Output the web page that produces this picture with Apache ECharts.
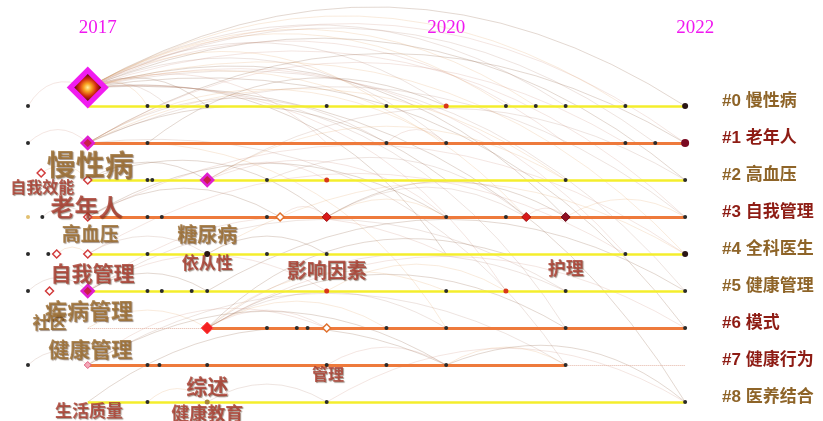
<!DOCTYPE html>
<html><head><meta charset="utf-8">
<script src="https://cdn.jsdelivr.net/npm/echarts@6/dist/echarts.min.js"></script>
<style>html,body{margin:0;padding:0;background:#fff}#c{width:823px;height:421px}</style>
</head><body><div id="c"></div>
<script>
// ---------- DATA ----------
const yearTicks = [2017, 2020, 2022];
const clusterLabels = ['#0 慢性病','#1 老年人','#2 高血压','#3 自我管理','#4 全科医生','#5 健康管理','#6 模式','#7 健康行为','#8 医养结合'];
const clusterTone = ['y','o','y','o','y','y','o','o','y'];
// [startYear, endYear, clusterRow]
const tracksSolid = [[2017,2022,0],[2017,2022,1],[2017,2022,2],[2017,2022,3],[2017,2022,4],[2017,2022,5],[2018,2022,6],[2017,2021,7],[2017,2022,8]];
const tracksDotted = [[2017,2018,6],[2021,2022,7]];
// [year, row, kind]
const nodes = [
  [2016.5,0,'dot'],[2017,-0.5,'hub'],[2017.5,0,'dot'],[2017.67,0,'dot'],[2018,0,'dot'],[2019,0,'dot'],[2019.5,0,'dot'],[2020,0,'burstDot'],[2020.5,0,'dot'],[2020.75,0,'dot'],[2021,0,'dot'],[2021.5,0,'dot'],[2022,0,'end'],
  [2016.5,1,'dot'],[2017,1,'central'],[2017.5,1,'dot'],[2019.5,1,'dot'],[2020,1,'dot'],[2021.5,1,'dot'],[2021.75,1,'dot'],[2022,1,'endRed'],
  [2016.61,1.81,'open'],[2017,2,'open'],[2017.5,2,'dot'],[2017.54,2,'dot'],[2018,2,'central'],[2018.5,2,'dot'],[2019,2,'burstDot'],[2021,2,'dot'],[2022,2,'dot'],
  [2016.5,3,'dotLight'],[2016.62,3,'dot'],[2017,3,'open'],[2017.5,3,'dot'],[2017.62,3,'dot'],[2018.5,3,'dot'],[2018.61,3,'openOrange'],[2019,3,'burst'],[2020,3,'dot'],[2020.5,3,'dot'],[2020.67,3,'burst'],[2021,3,'burstDark'],[2022,3,'dot'],
  [2016.5,4,'dot'],[2016.67,4,'dot'],[2016.74,4,'open'],[2017,4,'open'],[2017.5,4,'dot'],[2018,4,'end'],[2018.5,4,'dot'],[2019,4,'dot'],[2021.5,4,'dot'],[2022,4,'end'],
  [2016.5,5,'dot'],[2016.68,5,'open'],[2017,5,'central'],[2017.5,5,'dot'],[2017.62,5,'dot'],[2017.87,5,'dot'],[2018,5,'dot'],[2019,5,'burstDot'],[2020,5,'dot'],[2020.5,5,'burstDot'],[2021,5,'dot'],[2022,5,'dot'],
  [2018,6,'burstBig'],[2018.5,6,'dot'],[2018.75,6,'dot'],[2018.84,6,'dot'],[2019,6,'openOrange'],[2019.5,6,'dot'],[2020,6,'dot'],[2021,6,'dot'],[2022,6,'dot'],
  [2016.5,7,'dot'],[2017,7,'openPink'],[2017.5,7,'dot'],[2017.6,7,'dot'],[2018,7,'dot'],[2019,7,'dot'],[2019.5,7,'dot'],[2020,7,'dot'],[2021,7,'dot'],
  [2017.5,8,'dot'],[2018,8,'dotGold'],[2019,8,'dot'],[2022,8,'dot']
];
// co-occurrence links [year1,row1,year2,row2]
const links = [
  [2017,-0.5,2022,0],[2017,-0.5,2022,1],[2017,-0.5,2021.5,0],[2017,-0.5,2021,0],[2017,-0.5,2022,2],[2017,-0.5,2022,3],
  [2017,-0.5,2022,4],[2017,-0.5,2022,5],[2017,-0.5,2022,8],[2017,-0.5,2021,1],[2017,-0.5,2020.5,0],[2017,-0.5,2020,1],
  [2017,-0.5,2021,3],[2017,-0.5,2021.5,4],[2017,-0.5,2019.5,0],[2017,-0.5,2020,0],[2017,-0.5,2018,0],[2017,-0.5,2019,1],
  [2017,-0.5,2020.67,3],[2017,-0.5,2021,6],[2017,-0.5,2022,6],[2016.5,0,2017,-0.5],[2017,-0.5,2017.5,0],[2017,-0.5,2017.67,0],
  [2017,-0.5,2020,4],[2017,-0.5,2020.5,5],[2017,-0.5,2020.75,0],[2017,-0.5,2021.75,1],
  [2017,1,2022,1],[2017,1,2021.5,1],[2017,1,2020,1],[2017,1,2019.5,1],[2017,1,2020,2],[2016.5,1,2017,1],
  [2017,1,2021,2],[2017,1,2022,3],[2017.5,1,2020,0],[2019.5,1,2020,1],[2017,1,2020,6],[2017,1,2021,7],
  [2017,2,2018,2],[2018,2,2019,2],[2018,2,2021,2],[2018,2,2022,2],[2017,2,2019,3],[2018,2,2020,3],
  [2016.61,1.81,2017,2],[2018.5,2,2020.67,3],
  [2017,3,2018.61,3],[2018.61,3,2019,3],[2019,3,2020,3],[2019,3,2020.67,3],[2019,3,2021,3],[2020.67,3,2021,3],
  [2021,3,2022,3],[2016.62,3,2017,3],[2017,3,2020,3],[2017,3,2022,4],
  [2016.74,4,2017,4],[2017,4,2018,4],[2018,4,2019,4],[2017,4,2021.5,4],[2018,4,2022,4],
  [2016.5,5,2017,5],[2017,5,2018,5],[2017,5,2019,5],[2019,5,2020.5,5],[2017,5,2021,5],[2018,5,2022,5],[2017,5,2020,4],
  [2018,6,2019.5,6],[2018,6,2020,6],[2018,6,2021,6],[2018,6,2022,6],[2018,6,2020,5],[2018,6,2021,5],
  [2018,6,2020.5,4],[2018,6,2019,6],[2017,6,2018,6],
  [2016.5,7,2017,7],[2017,7,2020,7],[2019,7,2020,7],[2020,7,2021,7],[2017,7,2021,7],[2020,7,2022,8],[2017,7,2019,6],
  [2017.5,8,2018,8],[2018,8,2019,8],[2017,8,2020,7],[2019,8,2022,8]
];
// keyword labels [text, year, row, weight, tone]
const keywords = [
  ['慢性病',2017.02,1.6,29,'g'],['自我效能',2016.62,2.19,16,'r'],['老年人',2016.99,2.73,24,'r'],
  ['高血压',2017.02,3.46,19,'g'],['糖尿病',2018.0,3.46,20,'g'],['依从性',2018.0,4.22,17,'r'],
  ['自我管理',2017.04,4.51,21,'r'],['影响因素',2019.0,4.43,20,'r'],['护理',2021.0,4.38,18,'r'],
  ['疾病管理',2017.01,5.54,22,'g'],['社区',2016.68,5.86,17,'g'],['健康管理',2017.02,6.57,21,'g'],
  ['管理',2019.01,7.24,16,'r'],['综述',2018.0,7.57,21,'r'],['生活质量',2017.01,8.22,17,'r'],['健康教育',2018.0,8.3,18,'r']
];

// ---------- STYLE ----------
const kindStyle = {
  dot:{symbol:'circle',size:4,color:'#2b2b2b'},
  dotLight:{symbol:'circle',size:4,color:'#e2c070'},
  dotGold:{symbol:'circle',size:5,color:'#a8843a'},
  end:{symbol:'circle',size:6,color:'#2a1616'},
  endRed:{symbol:'circle',size:8,color:'#7a0a22'},
  burstDot:{symbol:'circle',size:5,color:'#d8361a'},
  open:{symbol:'diamond',size:8,color:'#ffffff',border:'#d23c3c',bw:1.5},
  openOrange:{symbol:'diamond',size:8,color:'#ffffff',border:'#e0702c',bw:1.5},
  openPink:{symbol:'diamond',size:7,color:'#f4a8b8',border:'#e06080',bw:1},
  central:{symbol:'diamond',size:12,color:'#c8204a',border:'#e020d0',bw:2.5},
  burst:{symbol:'diamond',size:9,color:'#d81818',border:'#a01010',bw:1},
  burstDark:{symbol:'diamond',size:9,color:'#8e0e22',border:'#6a0818',bw:1},
  burstBig:{symbol:'diamond',size:12,color:'#f42020',border:'#ff5050',bw:1}
};
const linkColors = ['rgba(145,100,70,0.5)','rgba(205,135,120,0.42)','rgba(228,168,105,0.45)','rgba(165,115,95,0.38)'];
const toneColor = {g:'#9a6a2c', r:'#a8382a'};

const series = [];
// links
series.push({
  type:'lines', coordinateSystem:'cartesian2d', polyline:false, clip:false, silent:true, z:1,
  data: links.map((l,i)=>{
    const dx = l[2]-l[0];
    return {coords:[[l[0],l[1]],[l[2],l[3]]],
      lineStyle:{color:linkColors[i%linkColors.length], width:1, curveness: dx<=0.6?0.45:0.3}};
  })
});
// tracks
series.push({
  type:'lines', coordinateSystem:'cartesian2d', clip:false, silent:true, z:2,
  data: tracksSolid.map(t=>({coords:[[t[0],t[2]],[t[1],t[2]]],
    lineStyle:{color: clusterTone[t[2]]==='y' ? '#f4ee2c' : '#ee7a3c', width: clusterTone[t[2]]==='y'?2.5:3, opacity:1}}))
});
series.push({
  type:'lines', coordinateSystem:'cartesian2d', clip:false, silent:true, z:2,
  lineStyle:{type:'dotted', color:'#e4b4a4', width:1, opacity:1},
  data: tracksDotted.map(t=>({coords:[[t[0],t[2]],[t[1],t[2]]]}))
});
// nodes by kind
Object.keys(kindStyle).forEach(k=>{
  const s = kindStyle[k];
  const pts = nodes.filter(n=>n[2]===k).map(n=>[n[0],n[1]]);
  if(!pts.length) return;
  series.push({type:'scatter', clip:false, silent:true, z:5, symbol:s.symbol, symbolSize:s.size,
    itemStyle:{color:s.color, borderColor:s.border||s.color, borderWidth:s.bw||0, opacity:1}, data:pts});
});
// hub (largest node)
const hubPts = nodes.filter(n=>n[2]==='hub').map(n=>[n[0],n[1]]);
series.push({type:'scatter', clip:false, silent:true, z:6, symbol:'diamond', symbolSize:42,
  itemStyle:{color:'#f01cf0', opacity:1}, data:hubPts});
series.push({type:'scatter', clip:false, silent:true, z:7, symbol:'diamond', symbolSize:27,
  itemStyle:{opacity:1, color:{type:'radial',x:0.5,y:0.5,r:0.5,colorStops:[
    {offset:0,color:'#fff2a0'},{offset:0.3,color:'#f8a020'},{offset:0.65,color:'#d02810'},{offset:1,color:'#5a0808'}]}},
  data:hubPts});
// keyword labels
series.push({
  type:'scatter', clip:false, silent:true, z:10, symbolSize:0,
  data: keywords.map(k=>({value:[k[1],k[2]], name:k[0],
    label:{show:true, position:'inside', formatter:k[0], fontSize:k[3], fontWeight:'bold',
      fontFamily:'"Noto Sans CJK SC"', color:toneColor[k[4]],
      textShadowColor:'rgba(60,30,8,0.6)', textShadowBlur:1, textShadowOffsetX:1, textShadowOffsetY:1}}))
});

const chart = echarts.init(document.getElementById('c'), null, {renderer:'canvas'});
chart.setOption({
  backgroundColor:'#ffffff',
  animation:false,
  grid:{left:28, right:108, top:87.5, bottom:0.5, containLabel:false},
  xAxis:{type:'value', position:'top', min:2016.5, max:2022.25, interval:0.5,
    axisLine:{show:false}, axisTick:{show:false}, splitLine:{show:false},
    axisLabel:{margin:50, showMinLabel:true, showMaxLabel:true,
      formatter:(v)=>{const y=Math.round(v*100)/100; if(yearTicks.indexOf(y)<0) return ''; return (y===2020?'{a|':'{b|')+y+'}';},
      rich:{a:{fontFamily:'"Liberation Serif"', fontSize:19, color:'#f018f0'},
            b:{fontFamily:'"Liberation Serif"', fontSize:19, color:'#f018f0', padding:[0,0,0,20]}}}},
  yAxis:[
    {type:'value', inverse:true, min:-0.5, max:8.5, show:false},
    {type:'category', inverse:true, position:'right', data:clusterLabels, boundaryGap:true,
      axisLine:{show:false}, axisTick:{show:false}, splitLine:{show:false},
      axisLabel:{margin:7, formatter:(v,i)=>(clusterTone[i]==='y'?'{g|':'{r|')+v+'}',
        rich:{g:{color:'#8e6428', fontWeight:'bold', fontSize:17, fontFamily:'"Liberation Sans","Noto Sans CJK SC"', padding:[0,0,10,0]},
              r:{color:'#8e1c14', fontWeight:'bold', fontSize:17, fontFamily:'"Liberation Sans","Noto Sans CJK SC"', padding:[0,0,10,0]}}}}
  ],
  series: series
});
</script></body></html>
